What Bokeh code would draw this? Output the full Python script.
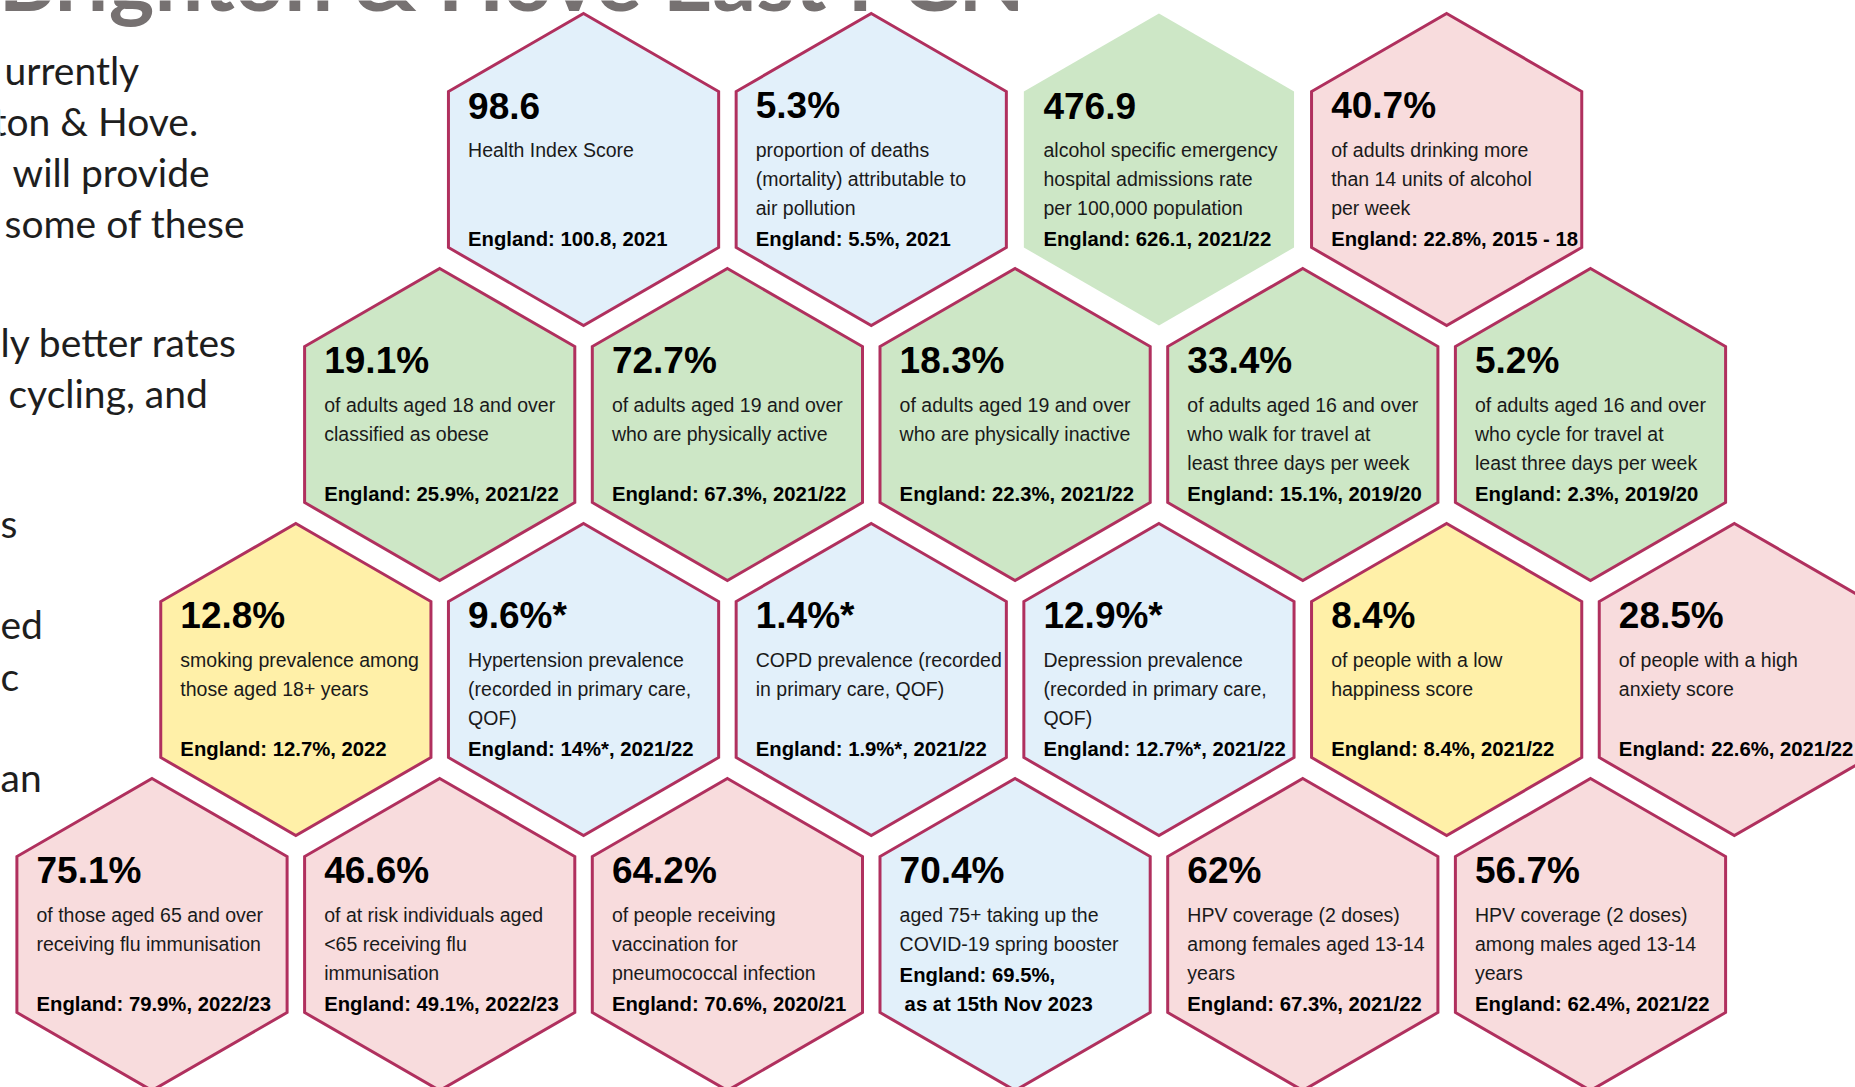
import math
from bokeh.plotting import figure
from bokeh.models import Range1d, ColumnDataSource
from bokeh.embed import file_html
from bokeh.resources import INLINE
from bokeh.core.properties import value

# ---------------- data ----------------
title_text = "Brighton & Hove East PCN"

intro_lines = ["urrently", "ton & Hove.", "will provide", "some of these",
               "ly better rates", "cycling, and", "s", "ed", "c", "an"]

hex_values = ["98.6", "5.3%", "476.9", "40.7%",
              "19.1%", "72.7%", "18.3%", "33.4%", "5.2%",
              "12.8%", "9.6%*", "1.4%*", "12.9%*", "8.4%", "28.5%",
              "75.1%", "46.6%", "64.2%", "70.4%", "62%", "56.7%"]

hex_desc = [
    ["Health Index Score"],
    ["proportion of deaths", "(mortality) attributable to", "air pollution"],
    ["alcohol specific emergency", "hospital admissions rate", "per 100,000 population"],
    ["of adults drinking more", "than 14 units of alcohol", "per week"],
    ["of adults aged 18 and over", "classified as obese"],
    ["of adults aged 19 and over", "who are physically active"],
    ["of adults aged 19 and over", "who are physically inactive"],
    ["of adults aged 16 and over", "who walk for travel at", "least three days per week"],
    ["of adults aged 16 and over", "who cycle for travel at", "least three days per week"],
    ["smoking prevalence among", "those aged 18+ years"],
    ["Hypertension prevalence", "(recorded in primary care,", "QOF)"],
    ["COPD prevalence (recorded", "in primary care, QOF)"],
    ["Depression prevalence", "(recorded in primary care,", "QOF)"],
    ["of people with a low", "happiness score"],
    ["of people with a high", "anxiety score"],
    ["of those aged 65 and over", "receiving flu immunisation"],
    ["of at risk individuals aged", "<65 receiving flu", "immunisation"],
    ["of people receiving", "vaccination for", "pneumococcal infection"],
    ["aged 75+ taking up the", "COVID-19 spring booster"],
    ["HPV coverage (2 doses)", "among females aged 13-14", "years"],
    ["HPV coverage (2 doses)", "among males aged 13-14", "years"],
]

hex_england = [
    ["England: 100.8, 2021"], ["England: 5.5%, 2021"], ["England: 626.1, 2021/22"],
    ["England: 22.8%, 2015 - 18"],
    ["England: 25.9%, 2021/22"], ["England: 67.3%, 2021/22"], ["England: 22.3%, 2021/22"],
    ["England: 15.1%, 2019/20"], ["England: 2.3%, 2019/20"],
    ["England: 12.7%, 2022"], ["England: 14%*, 2021/22"], ["England: 1.9%*, 2021/22"],
    ["England: 12.7%*, 2021/22"], ["England: 8.4%, 2021/22"], ["England: 22.6%, 2021/22"],
    ["England: 79.9%, 2022/23"], ["England: 49.1%, 2022/23"], ["England: 70.6%, 2020/21"],
    ["England: 69.5%,", " as at 15th Nov 2023"], ["England: 67.3%, 2021/22"],
    ["England: 62.4%, 2021/22"],
]

# comparison category: b = blue, g = better (green), r = worse (red), y = yellow
hex_status = ["b", "b", "g", "r",
              "g", "g", "g", "g", "g",
              "y", "b", "b", "b", "y", "r",
              "r", "r", "r", "b", "r", "r"]
hex_bordered = [1, 1, 0, 1] + [1] * 17

# honeycomb grid: row and half-step column
hex_row = [0] * 4 + [1] * 5 + [2] * 6 + [3] * 6
hex_col = [3, 5, 7, 9,
           2, 4, 6, 8, 10,
           1, 3, 5, 7, 9, 11,
           0, 2, 4, 6, 8, 10]

# ---------------- styling / layout ----------------
W, H = 1855, 1087
X0, DX = 151.5, 143.85
Y0, DY = 169.0, 255.0
R = 156.0
HW = R * math.sqrt(3) / 2
K = 0.42  # baseline compensation (fraction of font size)

fills = {"b": "#E2F0FA", "g": "#CDE7C6", "r": "#F8DCDD", "y": "#FFF0A8"}
border = "#B0305E"
FONT = "Liberation Sans"

p = figure(width=W, height=H, output_backend="svg", toolbar_location=None,
           x_range=Range1d(0, W), y_range=Range1d(H, 0),
           min_border=0, background_fill_color="white", border_fill_color="white")
p.outline_line_color = None
p.axis.visible = False
p.grid.visible = False

cxs = [X0 + c * DX for c in hex_col]
cys = [Y0 + r * DY for r in hex_row]

xs, ys = [], []
for cx, cy in zip(cxs, cys):
    xs.append([cx, cx + HW, cx + HW, cx, cx - HW, cx - HW])
    ys.append([cy - R, cy - R / 2, cy + R / 2, cy + R, cy + R / 2, cy - R / 2])

src = ColumnDataSource(dict(xs=xs, ys=ys,
                            fill=[fills[s] for s in hex_status],
                            lalpha=[float(b) for b in hex_bordered]))
p.patches("xs", "ys", source=src, fill_color="fill", line_color=border,
          line_alpha="lalpha", line_width=3, line_join="miter")

# ---- text inside hexagons ----
FS_V, FS_D, FS_E = 37, 19.5, 20.3
TX = -115.5
LS = 28.7
vx, vy, vt = [], [], []
dx_, dy_, dt = [], [], []
ex, ey, et = [], [], []
for i, (cx, cy) in enumerate(zip(cxs, cys)):
    vx.append(cx + TX); vy.append(cy - 48 - K * FS_V); vt.append(hex_values[i])
    for k, line in enumerate(hex_desc[i]):
        dx_.append(cx + TX); dy_.append(cy - 11 + LS * k - K * FS_D); dt.append(line)
    n = len(hex_england[i])
    for k, line in enumerate(hex_england[i]):
        off = 5 if line.startswith(" ") else 0
        ex.append(cx + TX + off); ey.append(cy + 78 - LS * (n - 1 - k) - K * FS_E)
        et.append(line.strip())

p.text(x=vx, y=vy, text=vt, text_font=value(FONT), text_font_style="bold",
       text_font_size=f"{FS_V}px", text_color="#000000", text_baseline="alphabetic")
p.text(x=dx_, y=dy_, text=dt, text_font=value(FONT), text_font_size=f"{FS_D}px",
       text_color="#1a1a1a", text_baseline="alphabetic")
p.text(x=ex, y=ey, text=et, text_font=value(FONT), text_font_style="bold",
       text_font_size=f"{FS_E}px", text_color="#000000", text_baseline="alphabetic")

# ---- title (cut at top, as in the source) ----
FS_T = 86.5
p.text(x=[-2], y=[13 - K * FS_T], text=[title_text], text_font=value("Lato"),
       text_font_style="bold", text_font_size=f"{FS_T}px", text_color="#767171",
       text_baseline="alphabetic")

# ---- intro text fragments on the left ----
FS_I = 39
intro_x = [4, -8, 12, 4, 0, 8, 0, 0, 0, 0]
intro_base = [86, 137, 188, 239, 358, 409, 539, 640, 692, 793]
p.text(x=intro_x, y=[b - K * FS_I for b in intro_base], text=intro_lines,
       text_font=value("Lato"), text_font_size=f"{FS_I}px", text_color="#1e1e1e",
       text_baseline="alphabetic")

open("out.html", "w").write(file_html(p, INLINE))
